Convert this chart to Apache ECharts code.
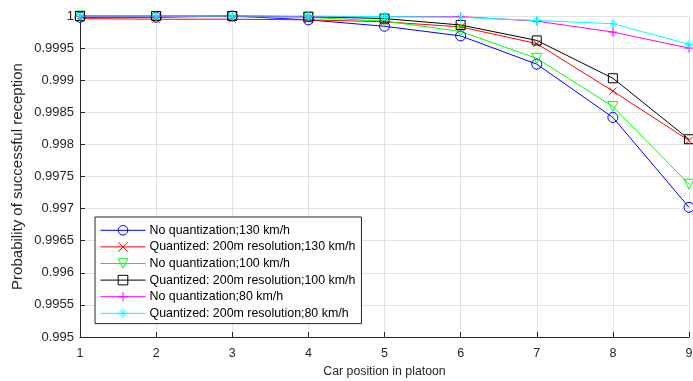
<!DOCTYPE html>
<html><head><meta charset="utf-8">
<script src="https://cdn.jsdelivr.net/npm/echarts@6/dist/echarts.min.js"></script>
<style>html,body{margin:0;padding:0;background:#fff}#c{width:693px;height:381px}</style>
</head><body><div id="c"></div>
<script>
const positions = [1, 2, 3, 4, 5, 6, 7, 8, 9];
const seriesNames = [
  'No quantization;130 km/h',
  'Quantized: 200m resolution;130 km/h',
  'No quantization;100 km/h',
  'Quantized: 200m resolution;100 km/h',
  'No quantization;80 km/h',
  'Quantized: 200m resolution;80 km/h'
];
const noQuant130 = [0.99998, 0.99998, 1.0, 0.99994, 0.99984, 0.99969, 0.99925, 0.99842, 0.99702];
const quant130 = [0.99996, 0.99995, 0.99995, 0.99994, 0.99991, 0.99983, 0.99957, 0.99883, 0.99806];
const noQuant100 = [1.0, 0.99999, 0.99999, 0.99998, 0.99992, 0.99976, 0.99934, 0.99859, 0.99738];
const quant100 = [1.0, 1.0, 1.0, 0.99999, 0.99996, 0.99986, 0.99962, 0.99903, 0.99808];
const noQuant80 = [0.99999, 0.99999, 1.0, 0.99999, 0.99999, 0.99999, 0.99992, 0.99975, 0.9995];
const quant80 = [1.0, 1.0, 1.0, 1.0, 0.99999, 0.99998, 0.99993, 0.99988, 0.99956];

const allValues = [noQuant130, quant130, noQuant100, quant100, noQuant80, quant80];
const colors = ['#0000ff', '#ff0000', '#00ff00', '#000000', '#ff00ff', '#00ffff'];
const symbols = [
  'circle',
  'path://M0,0L10,10M10,0L0,10',
  'triangle',
  'rect',
  'path://M5,0L5,10M0,5L10,5',
  'path://M5,0L5,10M0,5L10,5M1.5,1.5L8.5,8.5M8.5,1.5L1.5,8.5'
];
const sizes = [10, 7, 10, 9, 9, 9];
const rotates = [0, 0, 180, 0, 0, 0];

const chart = echarts.init(document.getElementById('c'), null, {renderer: 'canvas'});
const font = 'Liberation Sans, Arial, Helvetica, sans-serif';
const series = seriesNames.map((n, i) => ({
  name: n,
  type: 'line',
  data: positions.map((p, j) => [p, allValues[i][j]]),
  symbol: symbols[i],
  symbolSize: sizes[i],
  symbolRotate: rotates[i],
  showAllSymbol: true,
  clip: false,
  lineStyle: {color: colors[i], width: 1},
  itemStyle: {color: 'none', borderColor: colors[i], borderWidth: 1},
  emphasis: {disabled: true},
  animation: false
}));

chart.setOption({
  animation: false,
  grid: {left: 80, right: 4, top: 16, bottom: 44, outerBoundsMode: 'none', containLabel: false},
  legend: {
    orient: 'vertical', left: 95, top: 217,
    backgroundColor: '#fff', borderColor: '#262626', borderWidth: 1,
    padding: [6, 6, 3, 5], itemGap: 2, itemWidth: 45, itemHeight: 12,
    textStyle: {fontFamily: font, fontSize: 12.4, lineHeight: 13, color: '#000', padding: [0, 0, 0, -1]},
    data: seriesNames.map((n, i) => ({
      name: n,
      itemStyle: {color: 'none', borderColor: colors[i], borderWidth: 1, opacity: 1},
      lineStyle: {color: colors[i], width: 1, opacity: 1}
    }))
  },
  xAxis: {
    type: 'value', min: 1, max: 9, interval: 1,
    name: 'Car position in platoon', nameLocation: 'middle', nameGap: 29, nameMoveOverlap: false,
    nameTextStyle: {fontFamily: font, fontSize: 12.3, color: '#262626'},
    axisLine: {show: true, onZero: false, lineStyle: {color: '#262626', width: 1}},
    axisTick: {show: true, inside: true, length: 5, lineStyle: {color: '#262626'}},
    axisLabel: {fontFamily: font, fontSize: 12.5, color: '#262626', margin: 10},
    splitLine: {show: true, lineStyle: {color: '#e3e3e3', width: 1}}
  },
  yAxis: {
    type: 'value', min: 0.995, max: 1, interval: 0.0005,
    name: 'Probability of successful reception', nameLocation: 'middle', nameGap: 55, nameMoveOverlap: false,
    nameTextStyle: {fontFamily: font, fontSize: 15, color: '#262626'},
    axisLine: {show: true, onZero: false, lineStyle: {color: '#262626', width: 1}},
    axisTick: {show: true, inside: true, length: 5, lineStyle: {color: '#262626'}},
    axisLabel: {fontFamily: font, fontSize: 13, color: '#262626', margin: 6,
      formatter: v => String(parseFloat(v.toPrecision(6)))},
    splitLine: {show: true, lineStyle: {color: '#e3e3e3', width: 1}}
  },
  series: series
});
</script></body></html>
